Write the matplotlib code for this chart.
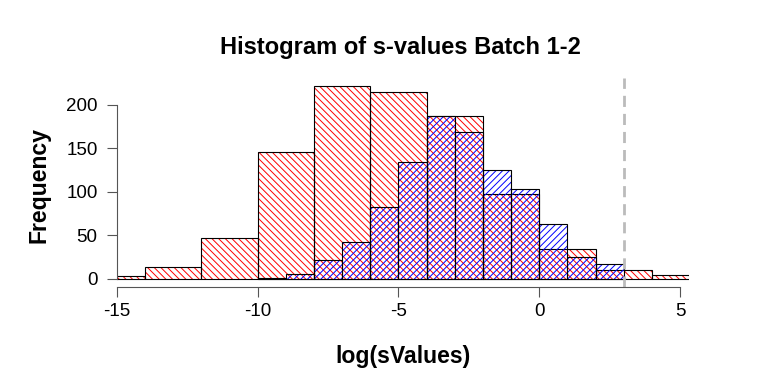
import numpy as np
import matplotlib
matplotlib.use("Agg")
import matplotlib.pyplot as plt

plt.rcParams['font.family'] = ['Liberation Sans', 'DejaVu Sans']
plt.rcParams['axes.unicode_minus'] = False
plt.rcParams['hatch.linewidth'] = 0.7

# batch 1 (red, width-2 bins) and batch 2 (blue, width-1 bins)
red_edges = [-16, -14, -12, -10, -8, -6, -4, -2, 0, 2, 4, 6]
red_counts = [3, 14, 47, 146, 222, 215, 187, 98, 34, 10, 5]
blue_edges = [-10, -9, -8, -7, -6, -5, -4, -3, -2, -1, 0, 1, 2, 3]
blue_counts = [1, 6, 22, 43, 83, 134, 187, 169, 125, 103, 63, 25, 17]
cutoff = 3

x_ticks = [-15, -10, -5, 0, 5]
y_ticks = [0, 50, 100, 150, 200]


def draw_hist(ax, edges, counts, color, hatch):
    left = np.array(edges[:-1])
    widths = np.diff(edges)
    # hatch only, then black outline on top
    ax.bar(left, counts, width=widths, align='edge', facecolor='none',
           edgecolor=color, hatch=hatch, linewidth=0)
    ax.bar(left, counts, width=widths, align='edge', facecolor='none',
           edgecolor='black', linewidth=0.8)


fig = plt.figure(figsize=(7.68, 3.84), dpi=100)
ax = fig.add_axes([117 / 768, 1 - 286.7 / 384, 572 / 768, 208.6 / 384])

draw_hist(ax, red_edges, red_counts, 'red', '\\\\\\\\\\')
draw_hist(ax, blue_edges, blue_counts, 'blue', '/////')

ax.axvline(cutoff, color='#bbbbbb', linewidth=2, linestyle=(0, (4, 2.5)))

ax.set_xlim(-15, 5.32)
ax.set_ylim(-8.9, 230.9)

for s in ['top', 'right']:
    ax.spines[s].set_visible(False)
ax.spines['left'].set_bounds(0, 200)
ax.spines['bottom'].set_bounds(-15, 5)
for s in ['left', 'bottom']:
    ax.spines[s].set_color('#555555')
    ax.spines[s].set_linewidth(0.8)

ax.set_xticks(x_ticks)
ax.set_yticks(y_ticks)
ax.tick_params(axis='both', direction='out', length=7, width=0.8,
               color='#555555', labelsize=13.5)
ax.tick_params(axis='x', pad=5)
ax.tick_params(axis='y', pad=7)

fig.text(400 / 768, 1 - 54.3 / 384, 'Histogram of s-values Batch 1-2',
         ha='center', va='baseline', fontsize=17, fontweight='bold')
fig.text(403 / 768, 1 - 357 / 384, 'log(sValues)',
         ha='center', va='center', fontsize=16.6, fontweight='bold')
fig.text(39 / 768, 1 - 185 / 384, 'Frequency', rotation=90,
         ha='center', va='center', fontsize=16.6, fontweight='bold')

fig.savefig('out.png', dpi=100)
